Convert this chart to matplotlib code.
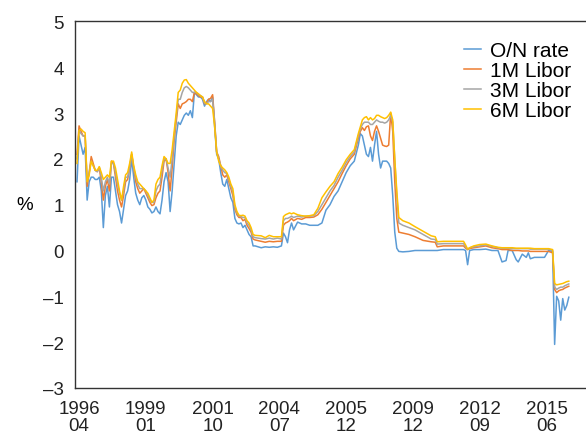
import matplotlib
matplotlib.use("Agg")
import matplotlib.pyplot as plt

# x = months since 1996-04 (sampled irregularly)
MONTHS = list(range(-1, 88)) + [
    90, 92, 94, 96, 98, 100, 101, 102, 103, 104, 105, 106,
    108, 110, 112, 114, 116, 118, 120, 122, 124, 126, 128, 130, 132, 134, 136,
    138, 139, 140, 141, 142, 143, 144, 145, 146, 147, 148, 149, 150, 151, 152,
    153, 154, 155, 156, 157, 158,
    160, 163, 166, 170, 174, 176, 177, 180, 185, 190,
    191, 192, 193, 195, 198, 201, 204, 207, 209, 211,
    212, 214, 216, 217, 219, 221, 222, 223, 225, 230,
    232, 234, 235, 236, 237, 238, 239, 240, 241, 242,
]

ON_RATE = [
    1.5, 2.5, 2.3, 2.1, 2.25, 1.1, 1.5, 1.6, 1.6, 1.55,
    1.55, 1.6, 1.3, 0.5, 1.2, 1.4, 0.95, 1.6, 1.6, 1.3,
    1.0, 0.85, 0.6, 0.9, 1.2, 1.3, 1.55, 2.0, 1.6, 1.25,
    1.1, 1.0, 1.15, 1.2, 1.1, 0.95, 0.9, 0.82, 0.85, 0.95,
    0.85, 0.8, 1.1, 1.5, 1.7, 1.5, 0.85, 1.3, 1.9, 2.5,
    2.8, 2.75, 2.85, 2.95, 3.0, 2.95, 3.05, 2.9, 3.45, 3.4,
    3.35, 3.35, 3.3, 3.15, 3.25, 3.3, 3.25, 3.35, 2.7, 2.1,
    2.0, 1.7, 1.45, 1.4, 1.55, 1.35, 1.15, 1.05, 0.7, 0.6,
    0.58, 0.6, 0.5, 0.55, 0.45, 0.35, 0.3, 0.1, 0.1,
    0.06, 0.08, 0.07, 0.08, 0.07, 0.1, 0.38, 0.3, 0.17, 0.45, 0.6, 0.45,
    0.62, 0.58, 0.58, 0.55, 0.55, 0.55, 0.6, 0.88, 1.0, 1.18, 1.3, 1.5, 1.7, 1.85, 1.95,
    2.3, 2.55, 2.5, 2.3, 2.1, 2.05, 2.25, 1.95, 2.3, 2.6, 2.1, 1.8, 1.95, 1.95,
    1.95, 1.9, 1.8, 1.2, 0.4, 0.05, -0.02,
    -0.03, -0.02, 0.0, 0.0, 0.0, 0.0, 0.0, 0.02, 0.02, 0.02,
    0.0, -0.31, 0.0, 0.02, 0.02, 0.03, 0.0, 0.0, -0.25, -0.22,
    0.0, 0.0, -0.2, -0.25, -0.08, -0.15, -0.05, -0.18, -0.15, -0.15,
    0.0, -0.02, -2.05, -1.0, -1.1, -1.52, -1.05, -1.3, -1.2, -1.02,
]

LIBOR_1M = [
    2.1, 2.72, 2.6, 2.5, 2.5, 1.4, 1.7, 2.05, 1.9, 1.75,
    1.72, 1.8, 1.5, 1.1, 1.4, 1.55, 1.3, 1.95, 1.9, 1.6,
    1.3, 1.1, 0.95, 1.2, 1.5, 1.55, 1.8, 2.1, 1.8, 1.5,
    1.35, 1.25, 1.3, 1.35, 1.25, 1.15, 1.05, 0.98, 1.0, 1.15,
    1.25, 1.3, 1.6, 1.95, 2.0, 1.7, 1.3, 1.8, 2.4, 2.8,
    3.2, 3.1, 3.2, 3.22, 3.25, 3.3, 3.3, 3.25, 3.45, 3.42,
    3.38, 3.35, 3.35, 3.2, 3.22, 3.3, 3.32, 3.4, 2.8, 2.15,
    2.05, 1.85, 1.65, 1.6, 1.65, 1.5, 1.35, 1.2, 0.9, 0.78,
    0.72, 0.72, 0.65, 0.68, 0.55, 0.48, 0.4, 0.25, 0.23,
    0.2, 0.18, 0.2, 0.19, 0.2, 0.2, 0.55, 0.6, 0.62, 0.65, 0.7, 0.65,
    0.7, 0.68, 0.72, 0.72, 0.73, 0.78, 0.9, 1.05, 1.2, 1.35, 1.5, 1.68, 1.85, 2.0, 2.1,
    2.45, 2.6, 2.68, 2.62, 2.7, 2.72, 2.5, 2.4, 2.6, 2.72, 2.6, 2.45, 2.3, 2.28,
    2.27, 2.3, 3.0, 2.6, 1.5, 0.7, 0.4,
    0.38, 0.35, 0.3, 0.22, 0.19, 0.18, 0.08, 0.1, 0.1, 0.1,
    0.05, 0.02, 0.04, 0.06, 0.08, 0.1, 0.06, 0.04, 0.02, 0.02,
    0.02, 0.0, 0.0, 0.0, -0.01, -0.01, -0.01, -0.02, -0.02, -0.02,
    -0.02, -0.05, -0.85, -0.92, -0.88, -0.86, -0.85, -0.82, -0.8, -0.78,
]

LIBOR_3M = [
    2.0, 2.62, 2.55, 2.5, 2.5, 1.5, 1.7, 1.95, 1.85, 1.75,
    1.72, 1.82, 1.6, 1.3, 1.5, 1.6, 1.45, 1.9, 1.9, 1.7,
    1.45, 1.25, 1.1, 1.3, 1.6, 1.6, 1.8, 2.1, 1.8, 1.6,
    1.45, 1.35, 1.35, 1.35, 1.3, 1.2, 1.1, 1.05, 1.05, 1.3,
    1.4, 1.45, 1.75, 2.0, 2.0, 1.8, 1.6, 2.0, 2.5, 2.9,
    3.3, 3.3, 3.45, 3.55, 3.58, 3.55, 3.5, 3.45, 3.45, 3.45,
    3.4, 3.38, 3.35, 3.22, 3.2, 3.25, 3.25, 3.3, 2.8, 2.15,
    2.0, 1.85, 1.75, 1.7, 1.68, 1.55, 1.4, 1.28, 0.95, 0.82,
    0.75, 0.74, 0.72, 0.72, 0.6, 0.55, 0.45, 0.3, 0.28,
    0.26, 0.25, 0.27, 0.25, 0.27, 0.25, 0.65, 0.7, 0.7, 0.72, 0.75, 0.72,
    0.75, 0.73, 0.75, 0.75, 0.76, 0.85, 1.0, 1.15, 1.3, 1.42, 1.6, 1.75, 1.92, 2.05, 2.15,
    2.5, 2.65, 2.75, 2.8, 2.8, 2.8, 2.75, 2.75, 2.8, 2.85, 2.82, 2.8, 2.8, 2.78,
    2.8, 2.85, 2.95, 2.8, 2.0, 1.2, 0.6,
    0.55, 0.5, 0.45, 0.35, 0.25, 0.24, 0.14, 0.15, 0.15, 0.15,
    0.08, 0.02, 0.06, 0.08, 0.1, 0.12, 0.09, 0.06, 0.05, 0.05,
    0.05, 0.04, 0.04, 0.04, 0.04, 0.04, 0.04, 0.03, 0.03, 0.03,
    0.03, 0.0, -0.8, -0.85, -0.82, -0.8, -0.8, -0.77, -0.75, -0.73,
]

LIBOR_6M = [
    1.9, 2.62, 2.65, 2.6, 2.57, 1.5, 1.65, 1.95, 1.85, 1.75,
    1.75, 1.83, 1.7, 1.55, 1.6, 1.65, 1.6, 1.95, 1.95, 1.8,
    1.55, 1.3, 1.1, 1.4, 1.65, 1.7, 1.9, 2.15, 1.85, 1.65,
    1.5, 1.45, 1.4, 1.35, 1.3, 1.25, 1.15, 1.05, 1.1, 1.45,
    1.55, 1.6, 1.85, 2.05, 2.0, 1.9, 1.9, 2.2, 2.6, 3.0,
    3.45, 3.5, 3.65, 3.72, 3.73, 3.65, 3.6, 3.55, 3.5, 3.45,
    3.42, 3.38, 3.35, 3.25, 3.2, 3.2, 3.15, 3.1, 2.7, 2.15,
    1.95, 1.85, 1.8, 1.76, 1.7, 1.6, 1.45, 1.35, 1.0, 0.85,
    0.77, 0.76, 0.77, 0.75, 0.65, 0.6, 0.5, 0.35, 0.33,
    0.32, 0.28, 0.33, 0.3, 0.3, 0.3, 0.74, 0.78, 0.8, 0.82, 0.8, 0.82,
    0.78, 0.76, 0.75, 0.76, 0.78, 0.92, 1.15, 1.28, 1.4, 1.5, 1.68, 1.82, 1.98, 2.1, 2.2,
    2.55, 2.7, 2.85, 2.9, 2.92, 2.85, 2.9, 2.85, 2.88, 2.95, 2.95, 2.92, 2.9, 2.88,
    2.9, 2.95, 3.02, 2.85, 2.0, 1.3, 0.72,
    0.65, 0.6, 0.52, 0.42, 0.32, 0.3, 0.19, 0.2, 0.2, 0.2,
    0.12, 0.03, 0.06, 0.1, 0.13, 0.14, 0.1, 0.07, 0.06, 0.06,
    0.06, 0.06, 0.05, 0.05, 0.05, 0.05, 0.05, 0.05, 0.04, 0.04,
    0.04, 0.02, -0.72, -0.75, -0.74, -0.73, -0.72, -0.7, -0.68, -0.67,
]

SERIES = [
    ("O/N rate", ON_RATE, "#5B9BD5"),
    ("1M Libor", LIBOR_1M, "#ED7D31"),
    ("3M Libor", LIBOR_3M, "#A5A5A5"),
    ("6M Libor", LIBOR_6M, "#FFC000"),
]

TICK_MONTHS = [0, 33, 66, 99, 132, 165, 198, 231]
TICK_LABELS = ["1996\n04", "1999\n01", "2001\n10", "2004\n07",
               "2005\n12", "2009\n12", "2012\n09", "2015\n06"]

for _, vals, _ in SERIES:
    assert len(vals) == len(MONTHS), len(vals)

plt.rcParams["font.family"] = ["Liberation Sans", "DejaVu Sans"]

fig = plt.figure(figsize=(5.86, 4.39), dpi=100)
ax = fig.add_axes([0.128, 0.114, 0.872, 0.835])

for label, vals, color in SERIES:
    ax.plot(MONTHS, vals, color=color, lw=1.1, label=label)

ax.set_xlim(-2, 250.5)
ax.set_ylim(-3, 5)
ax.set_yticks(range(-3, 6))
ax.set_yticklabels([str(v).replace("-", "\u2013") for v in range(-3, 6)])
ax.set_xticks(TICK_MONTHS)
ax.set_xticklabels(TICK_LABELS)
for lab in ax.get_xticklabels():
    lab.set_linespacing(0.95)

ax.tick_params(axis="both", length=0, labelsize=13.5, colors="#222222")
ax.tick_params(axis="y", pad=8)
ax.tick_params(axis="x", pad=9)

ax.spines["right"].set_visible(False)
for s in ["left", "top", "bottom"]:
    ax.spines[s].set_color("#333333")
    ax.spines[s].set_linewidth(1.0)

ax.set_ylabel("%", rotation=0, fontsize=13.5, ha="right", va="center")
ax.yaxis.set_label_coords(-0.082, 0.5)

ax.legend(loc="upper right", bbox_to_anchor=(0.995, 0.98), frameon=False,
          fontsize=15, handlelength=0.85, handletextpad=0.4,
          labelspacing=0.05, borderaxespad=0.2)

fig.savefig("out.png", dpi=100)
